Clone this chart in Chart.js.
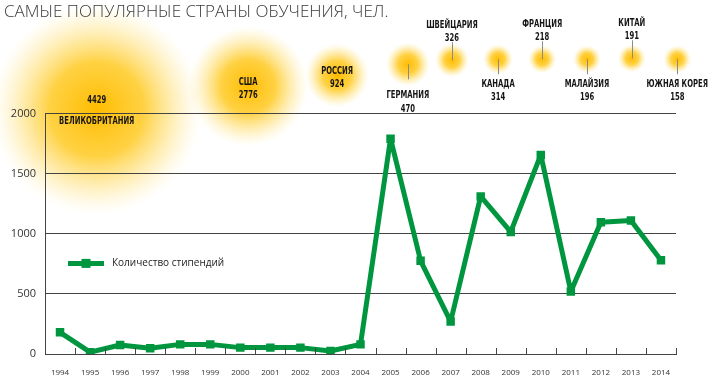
<!DOCTYPE html>
<html>
<head>
<meta charset="utf-8">
<script src="https://cdn.jsdelivr.net/npm/chart.js@4.4.1/dist/chart.umd.min.js"></script>
<style>
  html, body { margin: 0; padding: 0; background: #fff; }
  #wrap { width: 720px; height: 382px; position: relative; }
</style>
</head>
<body>
<div id="wrap"><canvas id="c" width="720" height="382"></canvas></div>
<script>
// ---------- DATA ----------
const years = ['1994','1995','1996','1997','1998','1999','2000','2001','2002','2003','2004',
               '2005','2006','2007','2008','2009','2010','2011','2012','2013','2014'];
const scholarships = [180, 15, 75, 47, 80, 80, 53, 53, 53, 25, 80,
                      1790, 775, 270, 1310, 1015, 1655, 520, 1095, 1110, 780];
const seriesLabel = 'Количество стипендий';
const yTicks = [0, 500, 1000, 1500, 2000];

const countries = ['ВЕЛИКОБРИТАНИЯ','США','РОССИЯ','ГЕРМАНИЯ','ШВЕЙЦАРИЯ','КАНАДА','ФРАНЦИЯ','МАЛАЙЗИЯ','КИТАЙ','ЮЖНАЯ КОРЕЯ'];
const countryValues = [4429, 2776, 924, 470, 326, 314, 218, 196, 191, 158];

const titleText = 'САМЫЕ ПОПУЛЯРНЫЕ СТРАНЫ ОБУЧЕНИЯ, ЧЕЛ.';

// ---------- LAYOUT (bubble placement on hidden 0..100 scales, glow radius px, label style) ----------
const bubbleLayout = [
  {x: 8.2,  y: 101.7, r: 105, label: 'inside-uk'},
  {x: 32.2, y: 111.3, r: 60,  label: 'inside'},
  {x: 46.3, y: 115.8, r: 32,  label: 'inside'},
  {x: 57.5, y: 120.4, r: 22,  label: 'below-big'},
  {x: 64.5, y: 122.1, r: 17,  label: 'above'},
  {x: 71.8, y: 122.5, r: 15,  label: 'below'},
  {x: 78.8, y: 122.5, r: 14,  label: 'above'},
  {x: 85.9, y: 122.5, r: 14,  label: 'below'},
  {x: 93.0, y: 122.9, r: 14,  label: 'above'},
  {x: 100.2,y: 122.5, r: 14,  label: 'below'}
];

const GREEN = '#00963f';
const LABEL_FONT = 'bold 10px "Liberation Sans Narrow", "DejaVu Sans Condensed", Arial, sans-serif';
const LABEL_SQUEEZE = 0.76;

const bubbleData = countries.map((c, i) => ({
  x: bubbleLayout[i].x, y: bubbleLayout[i].y, r: bubbleLayout[i].r,
  name: c, value: countryValues[i], label: bubbleLayout[i].label
}));

// draw glow bubbles behind grid
const glowPlugin = {
  id: 'glow',
  beforeDraw(chart) {
    const meta = chart.getDatasetMeta(1);
    const ctx = chart.ctx;
    ctx.save();
    meta.data.forEach((el, i) => {
      const R = bubbleData[i].r;
      const g = ctx.createRadialGradient(el.x, el.y, 0, el.x, el.y, R);
      g.addColorStop(0, 'rgba(255,188,0,1)');
      g.addColorStop(0.45, 'rgba(255,198,20,0.8)');
      g.addColorStop(0.75, 'rgba(255,212,70,0.35)');
      g.addColorStop(1, 'rgba(255,230,140,0)');
      ctx.fillStyle = g;
      ctx.beginPath();
      ctx.arc(el.x, el.y, R, 0, Math.PI * 2);
      ctx.fill();
    });
    ctx.restore();
  },
  afterDraw(chart) {
    const meta = chart.getDatasetMeta(1);
    const ctx = chart.ctx;
    ctx.save();
    ctx.font = LABEL_FONT;
    ctx.fillStyle = '#151515';
    ctx.textAlign = 'center';
    ctx.textBaseline = 'middle';
    ctx.strokeStyle = '#8a8a8a';
    ctx.lineWidth = 1;
    const txt = (t, x, y) => {
      ctx.save();
      ctx.translate(x, y);
      ctx.scale(LABEL_SQUEEZE, 1);
      ctx.fillText(t, 0, 0);
      ctx.restore();
    };
    meta.data.forEach((el, i) => {
      const d = bubbleData[i];
      const x = el.x, y = el.y;
      const line = (y1, y2) => { ctx.beginPath(); ctx.moveTo(Math.round(x) + 0.5, y1); ctx.lineTo(Math.round(x) + 0.5, y2); ctx.stroke(); };
      if (d.label === 'inside-uk') {
        txt(String(d.value), x, y - 9);
        txt(d.name, x, y + 12);
      } else if (d.label === 'inside') {
        txt(d.name, x, y - 4);
        txt(String(d.value), x, y + 9);
      } else if (d.label === 'above') {
        line(y - 18, y);
        txt(d.name, x, y - 35);
        txt(String(d.value), x, y - 22);
      } else if (d.label === 'below') {
        line(y, y + 15);
        txt(d.name, x, y + 25);
        txt(String(d.value), x, y + 38);
      } else if (d.label === 'below-big') {
        line(y, y + 15);
        txt(d.name, x, y + 31);
        txt(String(d.value), x, y + 45);
      }
    });
    ctx.restore();
  }
};

// inner tick marks on the x axis + in-chart legend
const decoPlugin = {
  id: 'deco',
  afterDatasetsDraw(chart) {
    const xs = chart.scales.x;
    const ctx = chart.ctx;
    const n = xs.ticks.length;
    const w = (xs.right - xs.left) / n;
    ctx.save();
    ctx.strokeStyle = '#444';
    ctx.lineWidth = 1;
    for (let i = 0; i <= n; i++) {
      const x = Math.round(xs.left + i * w) + 0.5;
      ctx.beginPath();
      ctx.moveTo(x, xs.top - 6);
      ctx.lineTo(x, xs.top);
      ctx.stroke();
    }
    // legend
    const ca = chart.chartArea;
    const lx = ca.left + 23, ly = ca.top + 150;
    const ds = chart.data.datasets[0];
    ctx.strokeStyle = ds.borderColor;
    ctx.lineWidth = 5;
    ctx.beginPath();
    ctx.moveTo(lx, ly);
    ctx.lineTo(lx + 36, ly);
    ctx.stroke();
    ctx.fillStyle = ds.borderColor;
    ctx.fillRect(lx + 18 - 4.5, ly - 4.5, 9, 9);
    ctx.fillStyle = '#222';
    ctx.font = '10px "Open Sans", Arial, sans-serif';
    ctx.textAlign = 'left';
    ctx.textBaseline = 'middle';
    ctx.fillText(ds.label, lx + 44, ly);
    ctx.restore();
  }
};

new Chart(document.getElementById('c'), {
  data: {
    labels: years,
    datasets: [
      {
        type: 'line',
        label: seriesLabel,
        data: scholarships,
        borderColor: GREEN,
        backgroundColor: GREEN,
        borderWidth: 5,
        borderJoinStyle: 'round',
        tension: 0,
        pointStyle: 'rect',
        pointRadius: 6,
        pointBackgroundColor: GREEN,
        pointBorderWidth: 0,
        xAxisID: 'x',
        yAxisID: 'y',
        order: 0
      },
      {
        type: 'bubble',
        label: 'countries',
        data: bubbleData,
        xAxisID: 'xb',
        yAxisID: 'yb',
        backgroundColor: 'rgba(0,0,0,0)',
        borderWidth: 0,
        clip: false,
        order: 1
      }
    ]
  },
  options: {
    responsive: false,
    animation: false,
    events: [],
    layout: { autoPadding: false, padding: { left: 4, right: 44, top: 0, bottom: 0 } },
    plugins: {
      legend: { display: false },
      tooltip: { enabled: false },
      title: {
        display: true,
        text: titleText,
        align: 'start',
        color: '#3a3a3a',
        font: { family: '"Open Sans", Arial, sans-serif', size: 17, weight: '300' },
        padding: { top: 2, bottom: 91 }
      }
    },
    scales: {
      x: {
        type: 'category',
        offset: true,
        grid: { display: false, drawTicks: false },
        border: { display: true, color: '#444', width: 1 },
        ticks: { color: '#333', font: { family: '"Open Sans", Arial, sans-serif', size: 8 }, padding: 14, maxRotation: 0, autoSkip: false },
        afterFit(s) { s.height = 28; }
      },
      y: {
        type: 'linear',
        min: 0, max: 2000,
        afterBuildTicks(s) { s.ticks = yTicks.map(v => ({ value: v })); },
        grid: { color: '#444', lineWidth: 1, drawTicks: false },
        border: { display: true, color: '#444', width: 1 },
        ticks: { color: '#333', font: { family: '"Open Sans", Arial, sans-serif', size: 11 }, padding: 9, callback: v => String(v) },
        afterFit(s) { s.width = 41; }
      },
      xb: { type: 'linear', min: 0, max: 100, display: false },
      yb: { type: 'linear', min: 0, max: 100, display: false }
    }
  },
  plugins: [glowPlugin, decoPlugin]
});
</script>
</body>
</html>
